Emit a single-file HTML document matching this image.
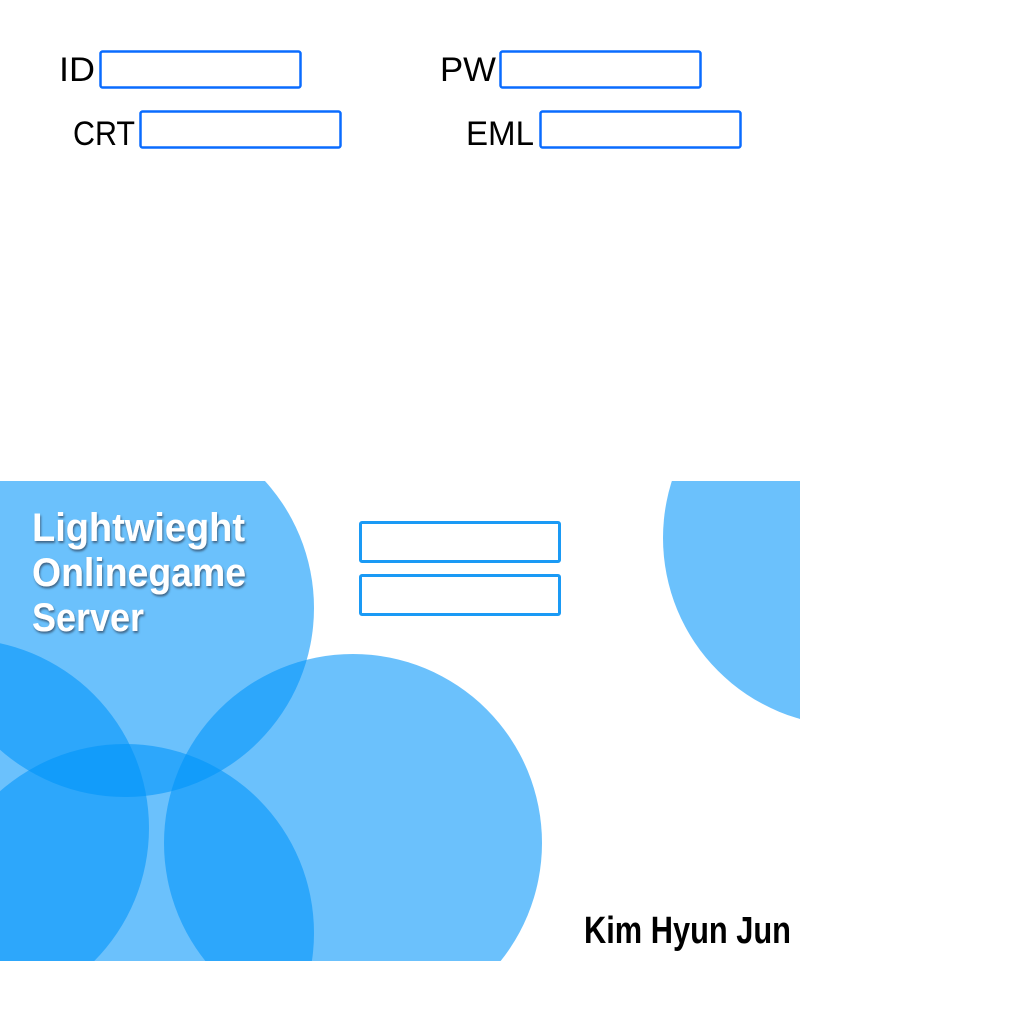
<!DOCTYPE html>
<html><head><style>html,body{margin:0;padding:0;background:#fff;width:1024px;height:1024px;overflow:hidden}svg{position:absolute;left:0;top:0;overflow:hidden}</style></head>
<body>
<svg width="1024" height="1024" xmlns="http://www.w3.org/2000/svg">
<defs>
<filter id="sh" x="-10%" y="-10%" width="120%" height="130%"><feDropShadow dx="1" dy="2" stdDeviation="1" flood-color="#34506a" flood-opacity="0.8"/></filter>
</defs>
<g font-family="'Liberation Sans',sans-serif" font-size="34" fill="#000">
<text x="59" y="81" textLength="36" lengthAdjust="spacingAndGlyphs">ID</text>
<text x="73" y="145" textLength="62" lengthAdjust="spacingAndGlyphs">CRT</text>
<text x="440" y="81" textLength="56" lengthAdjust="spacingAndGlyphs">PW</text>
<text x="466" y="145" textLength="68" lengthAdjust="spacingAndGlyphs">EML</text>
</g>
<g fill="none" stroke="#0a6cff" stroke-width="2.5">
<rect x="100.5" y="51.5" width="200" height="36" rx="2"/>
<rect x="500.5" y="51.5" width="200" height="36" rx="2"/>
<rect x="140.5" y="111.5" width="200" height="36" rx="2"/>
<rect x="540.5" y="111.5" width="200" height="36" rx="2"/>
</g>
<svg x="0" y="481" width="800" height="480" viewBox="0 481 800 480" overflow="hidden">
<g fill="rgba(0,148,250,0.58)">
<circle cx="125" cy="608" r="189"/>
<circle cx="-40" cy="828" r="189"/>
<circle cx="125" cy="933" r="189"/>
<circle cx="353" cy="843" r="189"/>
<circle cx="851" cy="538" r="188"/>
</g>
</svg>
<g font-family="'Liberation Sans Narrow','Liberation Sans',sans-serif" font-weight="bold" font-size="40" fill="#fff" filter="url(#sh)">
<text x="32" y="541" textLength="213" lengthAdjust="spacingAndGlyphs">Lightwieght</text>
<text x="32" y="586" textLength="214" lengthAdjust="spacingAndGlyphs">Onlinegame</text>
<text x="32" y="631" textLength="112" lengthAdjust="spacingAndGlyphs">Server</text>
</g>
<g fill="#fff" stroke="#1a9af5" stroke-width="3">
<rect x="360.5" y="522.5" width="199" height="39" rx="1.5"/>
<rect x="360.5" y="575.5" width="199" height="39" rx="1.5"/>
</g>
<text x="584" y="943" font-family="'Liberation Sans',sans-serif" font-weight="bold" font-size="38" textLength="207" lengthAdjust="spacingAndGlyphs" fill="#000">Kim Hyun Jun</text>
</svg>
</body></html>
